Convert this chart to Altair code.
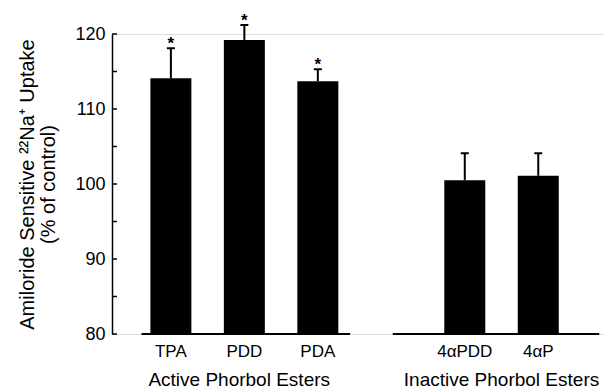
import altair as alt
import pandas as pd

categories = ["TPA", "PDD", "PDA", "4\u03b1PDD", "4\u03b1P"]
groups = ["Active Phorbol Esters", "Active Phorbol Esters", "Active Phorbol Esters",
          "Inactive Phorbol Esters", "Inactive Phorbol Esters"]
values = [114.1, 119.2, 113.7, 100.5, 101.1]
errors = [4.0, 2.0, 1.6, 3.6, 3.0]
significant = [True, True, True, False, False]
y_ticks = [80, 90, 100, 110, 120]
minor_ticks = [80, 85, 90, 95, 100, 105, 110, 115, 120]

FONT = "Liberation Sans"
GAP = 1  # empty slot between groups

group_names = list(dict.fromkeys(groups))
pos = []
for i, g in enumerate(groups):
    pos.append(i + group_names.index(g) * GAP)

df = pd.DataFrame({
    "cat": categories,
    "group": groups,
    "pos": pos,
    "value": values,
    "top": [v + e for v, e in zip(values, errors)],
    "star": ["*" if s else "" for s in significant],
})

gdf = pd.DataFrame({
    "group": group_names,
    "center": [sum(p for p, g in zip(pos, groups) if g == gn) / groups.count(gn) for gn in group_names],
    "lo": [min(p for p, g in zip(pos, groups) if g == gn) - 0.4 for gn in group_names],
    "hi": [max(p for p, g in zip(pos, groups) if g == gn) + 0.44 for gn in group_names],
})
gdf.loc[gdf.index[-1], "hi"] = 5.83
gdf.loc[gdf.index[-1], "lo"] = 3.02
gdf.loc[gdf.index[0], "center"] = 0.93

W, H = 492, 300
xscale = alt.Scale(domain=[-0.7333, 5.8267], nice=False, zero=False)
yscale = alt.Scale(domain=[80, 120], nice=False, zero=False)

base = alt.Chart(df)

bars = base.mark_bar(size=41, color="black").encode(
    x=alt.X("pos:Q", scale=xscale, axis=None),
    y=alt.Y("value:Q", scale=yscale,
            axis=alt.Axis(values=y_ticks, ticks=False, grid=False, domainColor="black",
                          domainWidth=1.5, labelFont=FONT, labelFontSize=18,
                          labelColor="black", labelPadding=7,
                          title=["Amiloride Sensitive \u00b2\u00b2Na\u207a Uptake", "(% of control)"],
                          titleFont=FONT, titleFontSize=20, titleFontWeight="normal",
                          titleColor="black", titlePadding=16, titleLineHeight=21)),
    y2=alt.datum(80),
)

err = base.mark_rule(color="black", strokeWidth=2).encode(
    x="pos:Q", y="value:Q", y2="top:Q")

caps = base.mark_rule(color="black", strokeWidth=2, xOffset=-4, x2Offset=4).encode(
    x="pos:Q", x2="pos:Q", y="top:Q")

stars = base.mark_text(font=FONT, fontSize=17, fontWeight="bold", baseline="alphabetic",
                       dy=1, color="black").encode(
    x="pos:Q", y="top:Q", text="star:N")

cat_labels = base.mark_text(font=FONT, fontSize=17, baseline="middle", color="black").encode(
    x="pos:Q", y=alt.value(H + 18), text="cat:N")

gbase = alt.Chart(gdf)
baseline = gbase.mark_rule(color="black", strokeWidth=2).encode(
    x=alt.X("lo:Q", scale=xscale), x2="hi:Q", y=alt.datum(80))

group_labels = gbase.mark_text(font=FONT, fontSize=19, baseline="middle", color="black").encode(
    x=alt.X("center:Q", scale=xscale), y=alt.value(H + 46), text="group:N")

tdf = pd.DataFrame({"t": minor_ticks})
ticks = alt.Chart(tdf).mark_rule(color="black", strokeWidth=1.5).encode(
    y=alt.Y("t:Q", scale=yscale), x=alt.value(0), x2=alt.value(5))

chart = alt.layer(bars, err, caps, stars, baseline, cat_labels, group_labels, ticks).properties(
    width=W, height=H,
    autosize=alt.AutoSizeParams(type="none"),
    padding={"left": 104, "top": 26, "right": 0, "bottom": 58},
).configure_view(stroke=None).configure(background="white")

chart.save("out.html", embed_options={"renderer": "svg", "actions": False})
